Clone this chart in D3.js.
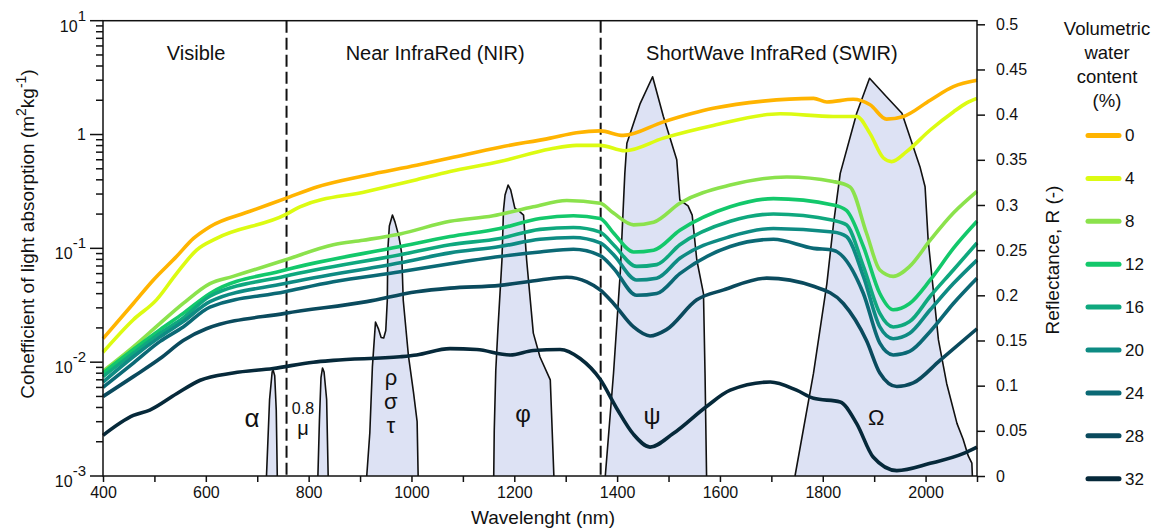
<!DOCTYPE html>
<html>
<head>
<meta charset="utf-8">
<script src="https://cdn.jsdelivr.net/npm/d3@7"></script>
<style>
	body { margin: 0; background: #fff; }
	svg { font-family: "Liberation Sans", Arial, sans-serif; }
	.axis text { font-size: 16px; fill: #111; }
	.axis path, .axis line { stroke: #111; stroke-width: 1.5; }
</style>
</head>
<body>
<svg width="1160" height="532"></svg>
<script>
// Water contents (legend) and curve colours
var contents = [0, 4, 8, 12, 16, 20, 24, 28, 32]
var colors = ["#ffb400", "#dcfb12", "#8be24c", "#13c86b", "#0fa87e", "#0e8b83", "#0b6975", "#0a4a5d", "#06293a"]

// Reflectance spectra, [wavelength nm, R]
var r0 = [[400,0.152],[459,0.191],[498,0.217],[543,0.243],[576,0.263],[608,0.276],[686,0.293],[754,0.307],[816,0.320],[913,0.333],[1010,0.344],[1075,0.352],[1172,0.364],[1270,0.374],[1321,0.380],[1367,0.382],[1412,0.377],[1490,0.392],[1587,0.407],[1684,0.415],[1782,0.418],[1808,0.414],[1859,0.417],[1892,0.411],[1924,0.395],[1957,0.398],[2009,0.416],[2054,0.431],[2100,0.438]]
var r4 = [[400,0.137],[459,0.173],[504,0.195],[543,0.224],[582,0.250],[621,0.263],[754,0.289],[783,0.298],[913,0.315],[1010,0.328],[1075,0.337],[1172,0.348],[1270,0.362],[1321,0.366],[1367,0.366],[1415,0.360],[1490,0.374],[1587,0.388],[1717,0.401],[1820,0.398],[1866,0.398],[1892,0.379],[1918,0.352],[1934,0.348],[1963,0.359],[2009,0.383],[2054,0.403],[2080,0.413],[2100,0.418]]
var r8 = [[400,0.116],[459,0.143],[511,0.169],[556,0.191],[608,0.213],[653,0.221],[754,0.239],[848,0.256],[906,0.261],[978,0.268],[1075,0.282],[1159,0.288],[1237,0.298],[1302,0.305],[1367,0.302],[1393,0.291],[1432,0.278],[1471,0.281],[1522,0.302],[1620,0.322],[1730,0.331],[1820,0.326],[1853,0.320],[1885,0.269],[1911,0.228],[1937,0.221],[1969,0.232],[2009,0.261],[2054,0.291],[2100,0.315]]
var r12 = [[400,0.114],[459,0.140],[511,0.162],[556,0.180],[608,0.202],[754,0.228],[978,0.254],[1075,0.265],[1172,0.274],[1250,0.285],[1315,0.288],[1367,0.285],[1393,0.269],[1432,0.248],[1471,0.250],[1522,0.272],[1620,0.298],[1704,0.307],[1820,0.300],[1846,0.294],[1879,0.254],[1911,0.202],[1937,0.184],[1969,0.191],[2009,0.217],[2054,0.252],[2100,0.282]]
var r16 = [[400,0.110],[459,0.136],[511,0.158],[556,0.175],[608,0.199],[754,0.221],[978,0.245],[1075,0.256],[1172,0.263],[1250,0.273],[1315,0.275],[1367,0.270],[1393,0.256],[1438,0.232],[1477,0.234],[1522,0.256],[1620,0.282],[1704,0.290],[1820,0.283],[1846,0.278],[1879,0.232],[1911,0.180],[1937,0.165],[1969,0.171],[2009,0.199],[2054,0.228],[2100,0.258]]
var r20 = [[400,0.104],[459,0.132],[511,0.154],[556,0.171],[608,0.193],[754,0.213],[978,0.236],[1075,0.247],[1172,0.254],[1250,0.262],[1315,0.264],[1367,0.258],[1393,0.245],[1438,0.217],[1477,0.219],[1522,0.241],[1620,0.265],[1704,0.274],[1820,0.270],[1846,0.265],[1879,0.221],[1911,0.165],[1937,0.152],[1969,0.158],[2009,0.184],[2054,0.213],[2100,0.239]]
var r24 = [[400,0.098],[459,0.125],[511,0.149],[556,0.165],[608,0.187],[754,0.204],[848,0.215],[978,0.226],[1075,0.235],[1172,0.243],[1250,0.248],[1315,0.251],[1367,0.244],[1393,0.230],[1438,0.200],[1477,0.202],[1522,0.224],[1620,0.254],[1704,0.262],[1782,0.252],[1820,0.250],[1879,0.202],[1911,0.147],[1937,0.134],[1969,0.138],[2009,0.160],[2054,0.191],[2100,0.219]]
var r28 = [[400,0.088],[459,0.110],[511,0.130],[556,0.150],[601,0.163],[754,0.180],[913,0.193],[1010,0.204],[1075,0.208],[1172,0.211],[1250,0.217],[1302,0.220],[1341,0.215],[1367,0.206],[1393,0.191],[1432,0.165],[1464,0.155],[1496,0.162],[1555,0.195],[1607,0.206],[1691,0.219],[1782,0.210],[1840,0.191],[1885,0.150],[1911,0.114],[1944,0.099],[1976,0.103],[2028,0.128],[2100,0.163]]
var r32 = [[400,0.045],[459,0.067],[491,0.073],[543,0.091],[589,0.106],[653,0.114],[731,0.119],[809,0.126],[848,0.128],[978,0.132],[1010,0.134],[1075,0.141],[1127,0.140],[1192,0.134],[1237,0.139],[1289,0.140],[1328,0.130],[1367,0.107],[1399,0.075],[1432,0.046],[1464,0.032],[1509,0.047],[1574,0.077],[1620,0.095],[1698,0.104],[1749,0.095],[1782,0.086],[1834,0.082],[1866,0.058],[1898,0.021],[1944,0.006],[2009,0.014],[2074,0.025],[2100,0.032]]
var spectra = [r0, r4, r8, r12, r16, r20, r24, r28, r32]

// Water absorption bands, [wavelength nm, coefficient m2/kg]
var bandAlpha = [[718,0.001],[724,0.0047],[729,0.0082],[731,0.0085],[734,0.0076],[737,0.0038],[739,0.001]]
var bandMu = [[818,0.001],[821,0.0031],[824,0.0073],[827,0.0089],[830,0.0082],[835,0.0047],[838,0.001]]
var bandRho = [[913,0.001],[919,0.0024],[924,0.0091],[930,0.0225],[936,0.0195],[941,0.0165],[946,0.0163],[950,0.019],[953,0.035],[954,0.097],[957,0.157],[963,0.196],[968,0.17],[975,0.13],[978,0.11],[981,0.09],[984,0.035],[994,0.0115],[1004,0.0054],[1011,0.003],[1013,0.001]]
var bandPhi = [[1160,0.001],[1161,0.0025],[1164,0.0085],[1168,0.019],[1176,0.079],[1179,0.217],[1182,0.294],[1188,0.360],[1193,0.326],[1201,0.226],[1211,0.209],[1218,0.196],[1224,0.079],[1237,0.018],[1250,0.0111],[1270,0.0070],[1277,0.001]]
var bandPsi = [[1377,0.001],[1393,0.008],[1406,0.060],[1415,0.456],[1419,0.84],[1445,1.88],[1469,3.22],[1490,1.44],[1516,0.60],[1522,0.266],[1538,0.236],[1546,0.196],[1555,0.079],[1568,0.040],[1571,0.008],[1574,0.001]]
var bandOmega = [[1746,0.001],[1782,0.008],[1808,0.049],[1821,0.166],[1834,0.456],[1866,1.54],[1891,3.12],[1924,2.15],[1954,1.54],[1989,0.522],[1999,0.348],[2005,0.118],[2025,0.0157],[2041,0.0065],[2061,0.0029],[2073,0.0021],[2083,0.0015],[2090,0.0013],[2091,0.001]]
var bands = [bandAlpha, bandMu, bandRho, bandPhi, bandPsi, bandOmega]

// Band symbols
var symbols = [
	{ t: "α", nm: 690, y: 418, size: 26 },
	{ t: "0.8", nm: 789, y: 408, size: 16 },
	{ t: "μ", nm: 789, y: 428, size: 20 },
	{ t: "ρ", nm: 960, y: 377, size: 22 },
	{ t: "σ", nm: 960, y: 401, size: 22 },
	{ t: "τ", nm: 960, y: 425, size: 22 },
	{ t: "φ", nm: 1217, y: 414, size: 24 },
	{ t: "ψ", nm: 1468, y: 416, size: 24 },
	{ t: "Ω", nm: 1904, y: 417, size: 22 }
]

// Spectral regions
var regions = [{ t: "Visible", nm: 581 }, { t: "Near InfraRed (NIR)", nm: 1046 }, { t: "ShortWave InfraRed (SWIR)", nm: 1701 }]
var limits = [757, 1368]

var xTicks = d3.range(400, 2101, 100)
var logTicks = [1e-3, 1e-2, 1e-1, 1, 10]
var rTicks = d3.range(0, 11).map(function(i) { return i * 0.05 })

var svg = d3.select("svg")
var pL = 103, pR = 977, pT = 20.7, pB = 476

var x = d3.scaleLinear().domain([400, 2100]).range([pL, pR])
var yL = d3.scaleLog().domain([1e-3, 10]).range([pB, pT])
var yR = d3.scaleLinear().domain([0, 0.5]).range([pB, 24.3])

// Bands
var bandLine = d3.line().x(function(d) { return x(d[0]) }).y(function(d) { return yL(d[1]) })
svg.selectAll(".band")
	.data(bands)
	.enter().append("path")
		.attr("class", "band")
		.attr("d", bandLine)
		.attr("fill", "#dde2f4")
		.attr("stroke", "#111")
		.attr("stroke-width", 1.6)
		.attr("stroke-linejoin", "round")

// Dashed region limits
svg.selectAll(".limit")
	.data(limits)
	.enter().append("line")
		.attr("x1", function(d) { return x(d) }).attr("x2", function(d) { return x(d) })
		.attr("y1", pT).attr("y2", pB)
		.attr("stroke", "#111")
		.attr("stroke-width", 2)
		.attr("stroke-dasharray", "12,5")

// Spectra
var line = d3.line()
	.x(function(d) { return x(d[0]) })
	.y(function(d) { return yR(d[1]) })
	.curve(d3.curveMonotoneX)

svg.selectAll(".spectrum")
	.data(spectra)
	.enter().append("path")
		.attr("class", "spectrum")
		.attr("d", line)
		.attr("fill", "none")
		.attr("stroke", function(d, i) { return colors[i] })
		.attr("stroke-width", 3.6)
		.attr("stroke-linejoin", "round")

// Frame
svg.append("rect")
	.attr("x", pL).attr("y", pT)
	.attr("width", pR - pL).attr("height", pB - pT)
	.attr("fill", "none").attr("stroke", "#111").attr("stroke-width", 1.5)

// Bottom axis
svg.append("g")
	.attr("class", "axis")
	.attr("transform", "translate(0," + pB + ")")
	.call(d3.axisBottom(x).tickValues(xTicks).tickSize(6).tickPadding(5)
		.tickFormat(function(d) { return d % 200 === 0 ? d : "" }))
	.call(function(g) { g.select(".domain").remove() })

// Right axis
svg.append("g")
	.attr("class", "axis")
	.attr("transform", "translate(" + pR + ",0)")
	.call(d3.axisRight(yR).tickValues(rTicks).tickSize(8).tickPadding(11)
		.tickFormat(function(d) { return String(+d.toFixed(2)) }))
	.call(function(g) { g.select(".domain").remove() })

// Left log axis with minor ticks
var minor = []
for (var e = -3; e < 1; e++) {
	for (var k = 2; k < 10; k++) minor.push(k * Math.pow(10, e))
}
var gl = svg.append("g").attr("class", "axis")
gl.selectAll(".minor")
	.data(minor)
	.enter().append("line")
		.attr("x1", pL - 7).attr("x2", pL)
		.attr("y1", function(d) { return yL(d) }).attr("y2", function(d) { return yL(d) })
gl.selectAll(".major")
	.data(logTicks)
	.enter().append("line")
		.attr("x1", pL - 13).attr("x2", pL)
		.attr("y1", function(d) { return yL(d) }).attr("y2", function(d) { return yL(d) })

var lab = gl.selectAll(".lab")
	.data(logTicks)
	.enter().append("text")
		.attr("text-anchor", "end")
		.attr("x", pL - 17)
		.attr("y", function(d) { return yL(d) })
lab.each(function(d) {
	var t = d3.select(this)
	var ex = Math.round(Math.log10(d))
	if (ex === 0) {
		t.attr("dy", "0.36em").text("1")
		return
	}
	t.append("tspan").attr("dy", 11).text("10")
	t.append("tspan").attr("dy", -11).attr("font-size", 15).text(ex)
})

// Region labels
svg.selectAll(".region")
	.data(regions)
	.enter().append("text")
		.attr("x", function(d) { return x(d.nm) })
		.attr("y", 60)
		.attr("text-anchor", "middle")
		.attr("font-size", 20)
		.attr("fill", "#111")
		.text(function(d) { return d.t })

// Band symbols
svg.selectAll(".sym")
	.data(symbols)
	.enter().append("text")
		.attr("x", function(d) { return x(d.nm) })
		.attr("y", function(d) { return d.y })
		.attr("dy", "0.35em")
		.attr("text-anchor", "middle")
		.attr("font-size", function(d) { return d.size })
		.attr("fill", "#111")
		.text(function(d) { return d.t })

// Axis titles
svg.append("text")
	.attr("x", (pL + pR) / 2 + 3).attr("y", 524)
	.attr("text-anchor", "middle").attr("font-size", 19).attr("fill", "#111")
	.text("Wavelenght (nm)")

var yt = svg.append("text")
	.attr("transform", "translate(34,234) rotate(-90)")
	.attr("text-anchor", "middle").attr("font-size", 19).attr("fill", "#111")
yt.append("tspan").text("Cohefficient of light absorption (m")
yt.append("tspan").attr("dy", -8).attr("font-size", 14).text("2")
yt.append("tspan").attr("dy", 8).text("kg")
yt.append("tspan").attr("dy", -8).attr("font-size", 14).text("-1")
yt.append("tspan").attr("dy", 8).text(")")

svg.append("text")
	.attr("transform", "translate(1059,260) rotate(-90)")
	.attr("text-anchor", "middle").attr("font-size", 19).attr("fill", "#111")
	.text("Reflectance, R (-)")

// Legend
var titleLines = ["Volumetric", "water", "content", "(%)"]
svg.selectAll(".ltitle")
	.data(titleLines)
	.enter().append("text")
		.attr("x", 1107)
		.attr("y", function(d, i) { return 35 + i * 24 })
		.attr("text-anchor", "middle")
		.attr("font-size", 18.5)
		.attr("fill", "#111")
		.text(function(d) { return d })

var item = svg.selectAll(".litem")
	.data(contents)
	.enter().append("g")
		.attr("transform", function(d, i) { return "translate(0," + (135.5 + i * 42.9) + ")" })
item.append("line")
	.attr("x1", 1088).attr("x2", 1119)
	.attr("stroke", function(d, i) { return colors[i] })
	.attr("stroke-width", 5)
	.attr("stroke-linecap", "round")
item.append("text")
	.attr("x", 1125).attr("dy", "0.35em")
	.attr("font-size", 17).attr("fill", "#111")
	.text(function(d) { return d })
</script>
</body>
</html>
